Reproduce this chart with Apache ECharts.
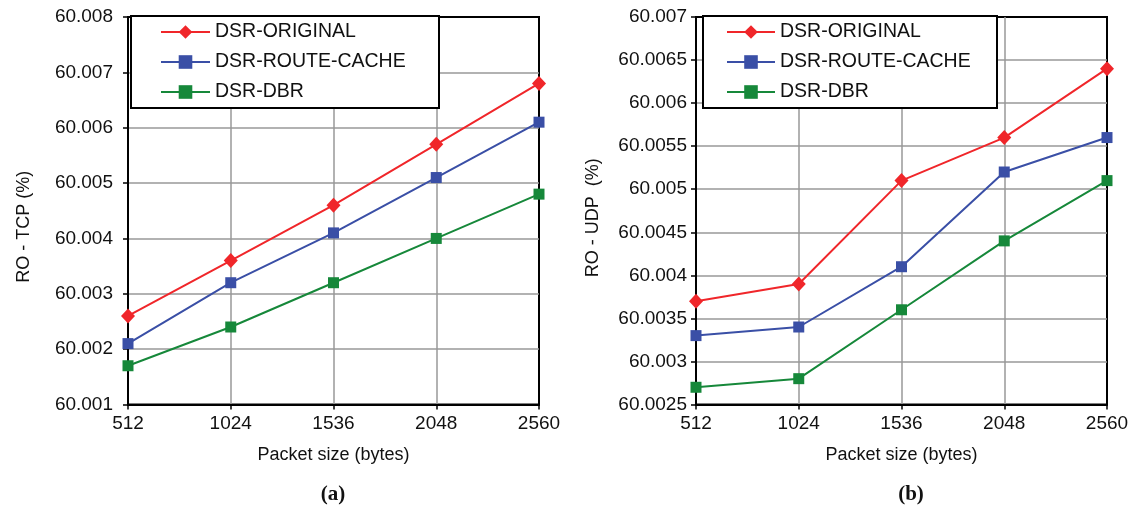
<!DOCTYPE html>
<html>
<head>
<meta charset="utf-8">
<script src="https://cdn.jsdelivr.net/npm/echarts@6/dist/echarts.min.js"></script>
<style>
  html, body { margin: 0; padding: 0; background: #fff; }
  #chart { width: 1133px; height: 506px; }
</style>
</head>
<body>
<div id="chart"></div>
<script>
// packet sizes (bytes)
const packetSizes = ['512', '1024', '1536', '2048', '2560'];
const seriesNames = ['DSR-ORIGINAL', 'DSR-ROUTE-CACHE', 'DSR-DBR'];

// (a) RO - TCP (%)
const tcpOriginal = [60.0026, 60.0036, 60.0046, 60.0057, 60.0068];
const tcpRouteCache = [60.0021, 60.0032, 60.0041, 60.0051, 60.0061];
const tcpDbr = [60.0017, 60.0024, 60.0032, 60.0040, 60.0048];

// (b) RO - UDP (%)
const udpOriginal = [60.0037, 60.0039, 60.0051, 60.0056, 60.0064];
const udpRouteCache = [60.0033, 60.0034, 60.0041, 60.0052, 60.0056];
const udpDbr = [60.0027, 60.0028, 60.0036, 60.0044, 60.0051];

const colors = ['#F0262A', '#3A4FA6', '#16883A'];
const font = '"Liberation Sans", Arial, sans-serif';

const chart = echarts.init(document.getElementById('chart'));

const fmt = v => parseFloat(v.toFixed(4)).toString();

function xAxisFor(gridIndex) {
    return {
        type: 'category',
        gridIndex,
        data: packetSizes,
        boundaryGap: false,
        name: 'Packet size (bytes)',
        nameLocation: 'middle',
        nameGap: 42,
        nameTextStyle: { fontSize: 18, color: '#111', fontFamily: font },
        axisLine: { lineStyle: { color: '#000', width: 2 } },
        axisTick: { show: true, length: 5, lineStyle: { color: '#000', width: 1.5 } },
        axisLabel: { margin: 10, fontSize: 19, color: '#111', fontFamily: font },
        splitLine: { show: true, showMinLine: false, showMaxLine: false, lineStyle: { color: '#999', width: 1.5 } }
    };
}

function yAxisFor(gridIndex, min, max, interval, name, gap, labelMargin, shift) {
    return {
        type: 'value',
        gridIndex,
        min, max, interval,
        name,
        nameLocation: 'middle',
        nameGap: gap,
        nameTextStyle: { fontSize: 18, color: '#111', fontFamily: font, padding: [0, shift, 0, 0] },
        axisLine: { show: true, lineStyle: { color: '#000', width: 2 } },
        axisTick: { show: true, length: 5, lineStyle: { color: '#000', width: 1.5 } },
        axisLabel: { margin: labelMargin, fontSize: 19, color: '#111', fontFamily: font, formatter: fmt },
        splitLine: { show: true, showMinLine: false, showMaxLine: false, lineStyle: { color: '#999', width: 1.5 } }
    };
}

function lineSeries(i, data, axisIndex) {
    const isDiamond = i === 0;
    return {
        name: seriesNames[i],
        type: 'line',
        xAxisIndex: axisIndex,
        yAxisIndex: axisIndex,
        data,
        symbol: isDiamond ? 'diamond' : 'rect',
        symbolSize: isDiamond ? [14, 15] : 11,
        lineStyle: { color: colors[i], width: 2 },
        itemStyle: { color: colors[i] },
        z: 3 - i
    };
}

function legendFor(left, padLeft, itemWidth, textWidth) {
    return {
        orient: 'vertical',
        left, top: 16,
        data: seriesNames,
        backgroundColor: '#fff',
        borderColor: '#000',
        borderWidth: 2,
        padding: [6, 0, 6, padLeft],
        itemGap: 10,
        itemWidth,
        itemHeight: 17,
        selectedMode: false,
        textStyle: { fontSize: 19.5, color: '#111', fontFamily: font, lineHeight: 20, width: textWidth }
    };
}

chart.setOption({
    animation: false,
    color: colors,
    grid: [
        { left: 128, top: 17, width: 411, height: 387.5, show: true, borderColor: '#000', borderWidth: 2 },
        { left: 696, top: 17, width: 411, height: 387.5, show: true, borderColor: '#000', borderWidth: 2 }
    ],
    xAxis: [xAxisFor(0), xAxisFor(1)],
    yAxis: [
        yAxisFor(0, 60.001, 60.008, 0.001, 'RO - TCP (%)', 95, 15, 32),
        yAxisFor(1, 60.0025, 60.007, 0.0005, 'RO - UDP  (%)', 94, 9, 14)
    ],
    legend: [
        legendFor(131, 29, 49, 224),
        legendFor(703, 23, 48, 217)
    ],
    series: [
        lineSeries(0, tcpOriginal, 0),
        lineSeries(1, tcpRouteCache, 0),
        lineSeries(2, tcpDbr, 0),
        lineSeries(0, udpOriginal, 1),
        lineSeries(1, udpRouteCache, 1),
        lineSeries(2, udpDbr, 1)
    ],
    graphic: [
        { type: 'text', x: 333, y: 495, style: { text: '(a)', fontSize: 21, fontWeight: 'bold', fontFamily: '"Liberation Serif", "Times New Roman", serif', fill: '#111', textAlign: 'center', textVerticalAlign: 'middle' } },
        { type: 'text', x: 911, y: 495, style: { text: '(b)', fontSize: 21, fontWeight: 'bold', fontFamily: '"Liberation Serif", "Times New Roman", serif', fill: '#111', textAlign: 'center', textVerticalAlign: 'middle' } }
    ]
});
</script>
</body>
</html>
